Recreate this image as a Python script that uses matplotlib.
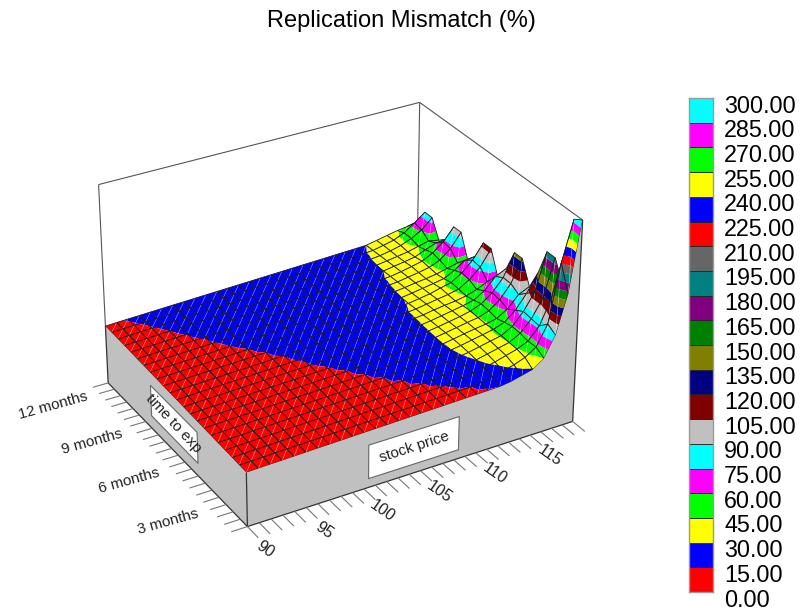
import numpy as np
import matplotlib
matplotlib.use('Agg')
import matplotlib.pyplot as plt
from mpl_toolkits.mplot3d import proj3d
from mpl_toolkits.mplot3d.art3d import Poly3DCollection, Line3DCollection

plt.rcParams['font.family'] = ['Liberation Sans', 'DejaVu Sans']

# stock price nodes and time to expiry nodes (months)
stock = list(range(90, 120))
months = [1, 1.52, 2.05, 2.57, 3.1, 3.62, 4.14, 4.67, 5.19, 5.71, 6.24,
          6.76, 7.29, 7.81, 8.33, 8.86, 9.38, 9.9, 10.43, 10.95, 11.48, 12]

# mismatch (%), one row per time node, front to back
mismatch = np.array([
    [2, 2.6, 3.2, 3.7, 4.3, 4.9, 5.5, 6, 6.6, 7.2, 7.8, 8.4, 8.9, 9.5, 10.1, 10.7, 11.2, 11.8, 12.4, 13, 13.6, 14.1, 14.7, 17.8, 23.3, 28.9, 45, 85, 160, 300],
    [2.5, 3.1, 3.7, 4.3, 4.9, 5.5, 6.2, 6.8, 7.4, 8, 8.6, 9.2, 9.8, 10.4, 11, 11.6, 12.3, 12.9, 13.5, 14.1, 14.7, 17.3, 22, 26.7, 32.5, 40.8, 55, 95, 210, 290],
    [3.1, 3.7, 4.4, 5, 5.6, 6.3, 6.9, 7.5, 8.2, 8.8, 9.4, 10.1, 10.7, 11.3, 12, 12.6, 13.2, 13.9, 14.5, 15.8, 19.6, 23.5, 27.3, 31.9, 38.1, 44.4, 54, 78, 125, 150],
    [3.7, 4.3, 5, 5.6, 6.3, 6.9, 7.6, 8.2, 8.8, 9.5, 10.1, 10.8, 11.4, 12, 12.7, 13.3, 14, 14.6, 16.4, 19.8, 23.2, 26.6, 30, 35, 40, 45, 57, 80, 115, 190],
    [4.2, 4.9, 5.5, 6.2, 6.9, 7.5, 8.2, 8.8, 9.5, 10.2, 10.8, 11.5, 12.2, 12.8, 13.5, 14.1, 14.8, 17, 19.8, 22.6, 25.5, 28.3, 31.9, 36.6, 41.3, 46, 58, 82, 115, 190],
    [4.8, 5.5, 6.1, 6.8, 7.5, 8.2, 8.8, 9.5, 10.2, 10.8, 11.5, 12.2, 12.9, 13.5, 14.2, 14.9, 17, 19.4, 21.9, 24.3, 26.8, 29.3, 33, 37.3, 41.6, 46, 54, 72, 100, 135],
    [5.3, 6, 6.7, 7.4, 8, 8.7, 9.4, 10.1, 10.8, 11.4, 12.1, 12.8, 13.5, 14.2, 14.9, 16.7, 18.9, 21, 23.1, 25.3, 27.4, 29.6, 33.2, 37.3, 41, 44, 49, 62, 85, 95],
    [5.9, 6.6, 7.3, 8, 8.6, 9.3, 10, 10.7, 11.4, 12, 12.7, 13.4, 14.1, 14.8, 16.3, 18.2, 20.1, 22, 23.9, 25.8, 27.7, 29.6, 33.2, 37.1, 41, 44.5, 52, 68, 95, 140],
    [6.4, 7.1, 7.8, 8.5, 9.2, 9.9, 10.6, 11.3, 12, 12.6, 13.3, 14, 14.7, 16, 17.7, 19.4, 21.1, 22.8, 24.4, 26.1, 27.8, 29.5, 32.7, 36.5, 40.4, 45.5, 54, 70, 95, 140],
    [7, 7.7, 8.4, 9.1, 9.8, 10.5, 11.2, 11.9, 12.6, 13.3, 14, 14.7, 15.8, 17.3, 18.8, 20.3, 21.8, 23.4, 24.9, 26.4, 27.9, 29.4, 32.3, 36.2, 40, 44, 49, 62, 85, 95],
    [7.5, 8.2, 8.9, 9.6, 10.3, 11, 11.7, 12.4, 13.1, 13.8, 14.5, 15.4, 16.8, 18.2, 19.6, 21, 22.4, 23.8, 25.1, 26.5, 27.9, 29.3, 31.8, 35.5, 38.5, 41, 45, 52, 62, 64],
    [8.1, 8.8, 9.5, 10.2, 10.9, 11.6, 12.3, 13, 13.7, 14.4, 15.1, 16.4, 17.7, 19, 20.3, 21.5, 22.8, 24.1, 25.4, 26.7, 28, 29.3, 31.4, 35, 38.6, 42, 47, 60, 80, 112],
    [8.6, 9.3, 10, 10.7, 11.4, 12.2, 12.9, 13.6, 14.3, 15, 16.2, 17.3, 18.5, 19.7, 20.8, 22, 23.1, 24.3, 25.5, 26.6, 27.8, 29, 30.3, 33.8, 37.3, 43, 48, 62, 82, 112],
    [9.2, 9.9, 10.6, 11.3, 12.1, 12.8, 13.5, 14.2, 14.9, 16, 17, 18.1, 19.1, 20.2, 21.3, 22.3, 23.4, 24.5, 25.5, 26.6, 27.7, 28.7, 29.8, 32.9, 36.4, 40, 44, 55, 70, 72],
    [9.7, 10.4, 11.2, 11.9, 12.6, 13.4, 14.1, 14.9, 15.8, 16.8, 17.7, 18.7, 19.7, 20.7, 21.7, 22.7, 23.7, 24.7, 25.7, 26.6, 27.6, 28.6, 29.6, 32.2, 35.5, 38, 41.5, 47, 52, 50],
    [10.3, 11, 11.8, 12.5, 13.2, 14, 14.7, 15.6, 16.5, 17.4, 18.3, 19.3, 20.2, 21.1, 22, 23, 23.9, 24.8, 25.8, 26.7, 27.6, 28.5, 29.4, 31.5, 35.1, 38.5, 43, 52, 70, 98],
    [10.8, 11.6, 12.3, 13.1, 13.8, 14.6, 15.3, 16.2, 17.1, 17.9, 18.8, 19.7, 20.5, 21.4, 22.3, 23.2, 24, 24.9, 25.8, 26.6, 27.5, 28.4, 29.3, 30.8, 34.5, 39, 44, 55, 72, 98],
    [11.4, 12.2, 12.9, 13.7, 14.4, 15.2, 16, 16.8, 17.6, 18.5, 19.3, 20.1, 20.9, 21.8, 22.6, 23.4, 24.2, 25, 25.9, 26.7, 27.5, 28.3, 29.2, 30, 33.8, 37, 41, 50, 58, 60],
    [11.9, 12.7, 13.5, 14.2, 15, 15.8, 16.6, 17.3, 18.1, 18.9, 19.7, 20.5, 21.2, 22, 22.8, 23.6, 24.4, 25.2, 25.9, 26.7, 27.5, 28.3, 29.1, 29.8, 33, 36, 39.5, 45, 50, 46],
    [12.5, 13.3, 14.1, 14.8, 15.6, 16.3, 17.1, 17.8, 18.5, 19.3, 20, 20.7, 21.5, 22.2, 22.9, 23.7, 24.4, 25.1, 25.9, 26.6, 27.3, 28.1, 28.8, 29.6, 32, 36, 41, 50, 62, 82],
    [13, 13.8, 14.7, 15.4, 16.1, 16.8, 17.5, 18.2, 18.9, 19.6, 20.3, 21, 21.7, 22.4, 23.1, 23.8, 24.5, 25.2, 25.9, 26.6, 27.3, 28, 28.7, 29.4, 30.9, 35.5, 40.5, 50, 65, 82],
    [13.6, 14.5, 15.3, 15.9, 16.6, 17.3, 18, 18.6, 19.3, 20, 20.6, 21.3, 22, 22.6, 23.3, 24, 24.6, 25.3, 26, 26.6, 27.3, 28, 28.7, 29.3, 30, 34.3, 38.6, 43, 46, 48],
])

# legend levels and the band colour between each level and the next
levels = list(range(0, 301, 15))
band_colors = ['#ff0000', '#0000ff', '#ffff00', '#00ff00', '#ff00ff', '#00ffff',
               '#c0c0c0', '#800000', '#000080', '#808000', '#008000', '#800080',
               '#008080', '#666666', '#ff0000', '#0000ff', '#ffff00', '#00ff00',
               '#ff00ff', '#00ffff']

x_ticks = list(range(90, 120))
x_labels = [90, 95, 100, 105, 110, 115]
y_ticks = months
y_labels = {3: '3 months', 6: '6 months', 9: '9 months', 12: '12 months'}

z_base = -106
z_top = 300
FRAME = '#555555'


def clip_band(tri, lo, hi):
    # cut a triangle down to the part with lo <= z <= hi
    poly = tri
    for limit, keep_above in ((lo, True), (hi, False)):
        out = []
        for k in range(len(poly)):
            a, b = poly[k], poly[(k + 1) % len(poly)]
            da = a[2] - limit if keep_above else limit - a[2]
            db = b[2] - limit if keep_above else limit - b[2]
            if da >= 0:
                out.append(a)
            if da * db < 0:
                t = da / (da - db)
                out.append(tuple(a[m] + t * (b[m] - a[m]) for m in range(3)))
        poly = out
        if not poly:
            break
    return poly


fig = plt.figure(figsize=(8.01, 6.13), dpi=100)
ax = fig.add_subplot(projection='3d', computed_zorder=False)
ax.view_init(elev=29.91, azim=-120.05)
ax.set_proj_type('persp', focal_length=0.997)
ax.set_box_aspect((1.2366, 1, 0.7639))
ax.set_xlim(stock[0], stock[-1])
ax.set_ylim(months[0], months[-1])
ax.set_zlim(z_base, z_top)
ax.set_axis_off()

# place the square 3d axes so that the projection lands where the reference has it
scale, tx, ty = 2793.11, 337.77, 308.93
x0, x1 = ax.viewLim.intervalx
y0, y1 = ax.viewLim.intervaly
side = scale * (x1 - x0)
ax.set_position([(tx + scale * x0) / 801, (ty + scale * y0) / 613, side / 801, side / 613])


def label3d(x, y, z, s, **kw):
    # flat text at a projected 3d point, Text3D would overrule the rotation
    sx, sy, _ = proj3d.proj_transform(x, y, z, ax.get_proj())
    ax.text2D(sx, sy, s, transform=ax.transData, va='center', rotation_mode='anchor',
              color='#222222', **kw)


xmin, xmax = stock[0], stock[-1]
yf, yb = months[0], months[-1]

# back frame
frame = [[(xmin, yb, z_top), (xmax, yb, z_top)],
         [(xmax, yb, z_top), (xmax, yf, z_top)],
         [(xmax, yb, z_top), (xmax, yb, 40)],
         [(xmin, yb, z_top), (xmin, yb, mismatch[-1][0])]]
ax.add_collection3d(Line3DCollection(frame, colors=FRAME, linewidths=0.8, zorder=1))

# surface, painted from the far corner to the near one
order = 10
for j in range(len(months) - 2, -1, -1):
    for i in range(len(stock) - 2, -1, -1):
        p00 = (stock[i], months[j], mismatch[j][i])
        p10 = (stock[i + 1], months[j], mismatch[j][i + 1])
        p11 = (stock[i + 1], months[j + 1], mismatch[j + 1][i + 1])
        p01 = (stock[i], months[j + 1], mismatch[j + 1][i])
        polys, cols = [], []
        for tri in ([p00, p10, p11], [p00, p11, p01]):
            for b, col in enumerate(band_colors):
                piece = clip_band(tri, levels[b], levels[b + 1])
                if len(piece) >= 3:
                    polys.append(piece)
                    cols.append(col)
        cell = Poly3DCollection(polys, facecolors=cols, edgecolors='none', linewidths=0, zorder=order)
        ax.add_collection3d(cell)
        # the triangle seam shows as a faint light line in each cell
        wire = Line3DCollection([[p00, p11], [p00, p10], [p10, p11], [p11, p01], [p01, p00]],
                                colors=[(1, 1, 1, 0.3)] + ['#1c1c1c'] * 4,
                                linewidths=[0.5] + [0.6] * 4, zorder=order + 1)
        ax.add_collection3d(wire)
        order += 2

# skirt under the surface
left_wall = [(xmin, yf, z_base), (xmin, yb, z_base)] + [(xmin, m, mismatch[k][0]) for k, m in enumerate(months)][::-1]
front_wall = [(xmin, yf, z_base), (xmax, yf, z_base)] + [(s, yf, mismatch[0][k]) for k, s in enumerate(stock)][::-1]
order += 1
ax.add_collection3d(Poly3DCollection([left_wall], facecolors='#c0c0c0', edgecolors='none', zorder=order))
ax.add_collection3d(Poly3DCollection([front_wall], facecolors='#c0c0c0', edgecolors='none', zorder=order))

# edges of the box and ticks
edges = [[(xmin, yf, z_base), (xmin, yb, z_base)],
         [(xmin, yf, z_base), (xmax, yf, z_base)],
         [(xmin, yf, z_base), (xmin, yf, mismatch[0][0])],
         [(xmax, yf, z_base), (xmax, yf, z_top)],
         [(xmin, yb, z_base), (xmin, yb, mismatch[-1][0])]]
ax.add_collection3d(Line3DCollection(edges, colors='#333333', linewidths=0.9, zorder=order + 2))

tick_dy = 0.79
tick_dx = 1.35
tick_segs = [[(s, yf, z_base), (s, yf - tick_dy, z_base)] for s in x_ticks]
tick_segs += [[(xmin, m, z_base), (xmin - tick_dx, m, z_base)] for m in y_ticks]
ax.add_collection3d(Line3DCollection(tick_segs, colors='#777777', linewidths=0.8, zorder=order + 2))

for s in x_labels:
    label3d(s - 0.25, yf - 1.47, z_base - 2, str(s), fontsize=11.5, rotation=-35, ha='center', zorder=order + 3)
for m, lab in y_labels.items():
    label3d(xmin - 1.9, m, z_base - 16, lab, fontsize=11, rotation=15.5, ha='right', zorder=order + 3)

# axis name plates on the walls
plate_y = [(xmin, 4.67, -17), (xmin, 8.33, -17), (xmin, 8.33, -80), (xmin, 4.67, -80)]
plate_x = [(100.4, yf, -20), (108.4, yf, -20), (108.4, yf, -88), (100.4, yf, -88)]
ax.add_collection3d(Poly3DCollection([plate_y, plate_x], facecolors='white', edgecolors='#666666',
                                     linewidths=0.8, zorder=order + 4))
label3d(xmin, 6.5, -48, 'time to exp', fontsize=11, rotation=-47, ha='center', zorder=order + 5)
label3d(104.4, yf, -54, 'stock price', fontsize=11, rotation=18, ha='center', zorder=order + 5)

fig.text(401 / 801, 1 - 21 / 613, 'Replication Mismatch (%)', fontsize=17, ha='center', va='center')

# colour key
leg = fig.add_axes([689 / 801, (613 - 592) / 613, 24 / 801, 494 / 613])
leg.bar(0, [15] * len(band_colors), bottom=levels[:-1], width=1, color=band_colors,
        edgecolor='#222222', linewidth=0.6)
leg.set_xlim(-0.5, 0.5)
leg.set_ylim(0, 300)
leg.set_xticks([])
leg.set_yticks([])
for v in levels:
    leg.annotate('%.2f' % v, xy=(1, v), xycoords=('axes fraction', 'data'), xytext=(8, -5.8),
                 textcoords='offset points', fontsize=16.8, ha='left', va='center', annotation_clip=False)
for sp in leg.spines.values():
    sp.set_color('#999999')
    sp.set_linewidth(1.0)

fig.savefig('out.png', dpi=100)
